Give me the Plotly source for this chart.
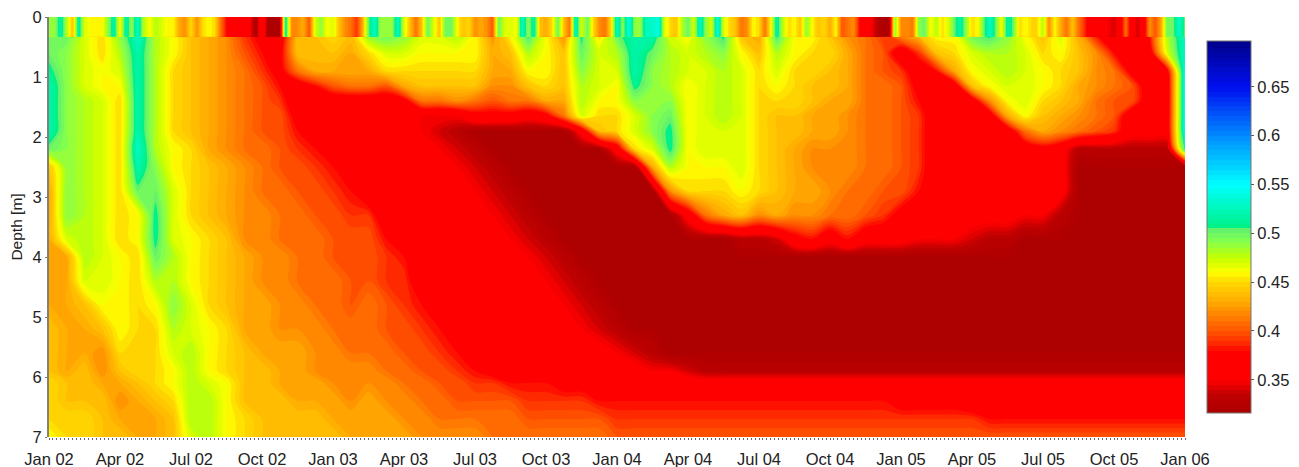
import numpy as np
import plotly.graph_objects as go

tick_months = [0, 3, 6, 9, 12, 15, 18, 21, 24, 27, 30, 33, 36, 39, 42, 45, 48]
tick_labels = ["Jan 02","Apr 02","Jul 02","Oct 02","Jan 03","Apr 03","Jul 03","Oct 03","Jan 04",
               "Apr 04","Jul 04","Oct 04","Jan 05","Apr 05","Jul 05","Oct 05","Jan 06"]
depths = [0.30,0.6,0.9,1.15,1.4,1.65,1.9,2.2,2.5,2.9,3.3,3.7,4.0,4.4,4.8,5.2,5.6,5.9,6.1,6.4,6.7,7.0]
months = [0.75*i for i in range(65)]
strip_months = [0.25*i for i in range(193)]
strip_depths = [0.0, 0.33]

# water content in hundredths: one profile per column, top to bottom
profiles = [
[50,50,51,52,52,52,52,50,44,43,43,43,43,43,43,44,44,44,45,45,45,46],
[50,49,49,49,49,49,49,49,49,49,49,47,43,43,43,43,43,43,44,44,45,45],
[47,47,47,47,48,48,48,48,48,48,48,48,48,47,44,43,43,44,44,44,45,45],
[45,45,46,46,47,47,47,47,47,47,47,47,47,47,46,44,42,42,43,44,44,44],
[49,48,47,46,45,45,45,45,45,45,45,45,46,46,46,46,45,44,43,42,43,44],
[53,52,52,52,52,52,52,53,52,50,46,46,45,45,45,45,45,45,44,43,43,43],
[48,48,48,48,48,48,48,48,49,50,51,51,50,48,46,45,45,45,45,44,43,43],
[46,46,45,45,45,45,45,46,46,47,47,47,48,48,49,48,47,46,46,45,44,44],
[44,44,44,44,44,44,44,45,45,45,45,46,46,46,47,47,48,48,48,48,48,47],
[43,43,43,43,43,43,43,43,44,44,44,45,45,45,45,46,46,46,47,48,48,48],
[42,42,42,42,42,42,42,42,43,43,43,44,44,44,44,45,45,45,46,46,46,46],
[39,40,41,41,41,41,41,41,42,42,42,42,43,43,43,43,44,44,44,44,45,45],
[37,38,39,40,40,40,40,41,41,41,42,42,42,42,43,43,43,44,44,44,44,44],
[36,37,37,38,39,40,40,40,40,41,41,41,42,42,42,42,43,43,43,44,44,44],
[44,44,41,36,36,37,38,39,40,40,41,41,41,41,42,42,43,43,43,43,44,44],
[44,44,43,38,36,36,36,38,39,40,40,41,41,41,41,42,42,42,43,43,44,44],
[45,44,43,40,36,36,36,36,38,39,40,40,40,41,41,41,42,42,42,43,43,44],
[44,43,43,41,36,36,36,36,36,38,39,40,40,40,40,41,41,42,42,42,43,43],
[49,45,43,41,36,36,36,36,36,36,39,40,40,40,41,41,41,42,42,43,43,43],
[50,47,45,40,36,36,36,36,36,36,36,38,39,39,40,40,41,41,42,42,43,43],
[49,47,45,43,37,36,36,36,36,36,36,36,38,39,39,40,40,41,41,42,42,43],
[47,46,45,44,41,35,35,36,36,36,36,36,36,36,38,39,40,40,41,41,42,42],
[47,46,45,44,41,35,34,35,36,36,36,36,36,36,36,38,39,40,40,41,41,42],
[48,46,45,44,42,35,33,34,35,36,36,36,36,36,36,36,38,39,40,40,41,42],
[46,46,45,44,41,37,32,33,34,35,36,36,36,36,36,36,36,38,39,40,41,42],
[42,43,43,42,40,37,32,32,33,34,35,36,36,36,36,36,36,37,39,40,41,41],
[46,44,43,42,41,37,32,32,32,33,34,35,36,36,36,36,36,37,38,40,41,41],
[51,48,46,44,41,36,32,32,32,32,33,34,35,36,36,36,36,36,38,39,40,41],
[46,46,46,45,43,37,32,32,32,32,32,33,34,35,36,36,36,36,38,39,40,41],
[42,44,44,44,43,41,32,32,32,32,32,32,33,34,35,36,36,36,37,39,40,41],
[51,50,49,48,48,47,36,32,32,32,32,32,32,33,34,35,36,36,37,39,40,41],
[45,47,47,47,46,45,44,32,32,32,32,32,32,32,33,34,36,36,37,38,40,41],
[50,48,47,46,46,45,45,36,32,32,32,32,32,32,32,33,35,36,37,38,39,40],
[52,52,52,51,49,47,47,45,32,32,32,32,32,32,32,32,34,36,37,38,39,40],
[52,50,49,49,49,49,49,47,43,32,32,32,32,32,32,32,33,35,37,38,39,40],
[47,48,48,48,49,50,51,51,48,42,32,32,32,32,32,32,32,35,36,38,39,40],
[46,47,47,46,46,46,46,46,46,45,36,32,32,32,32,32,32,34,36,38,39,40],
[49,48,47,47,47,47,47,47,46,45,41,32,32,32,32,32,32,33,36,38,39,40],
[51,49,48,48,48,48,47,47,46,45,43,32,32,32,32,32,32,33,36,38,39,40],
[44,46,47,47,47,47,47,47,47,46,44,33,32,32,32,32,32,33,36,38,39,40],
[43,44,45,45,45,45,45,45,45,45,42,33,32,32,32,32,32,33,36,38,39,40],
[51,48,47,46,45,44,44,44,44,44,43,34,32,32,32,32,32,33,36,38,39,40],
[46,46,45,45,45,44,44,43,43,43,42,37,32,32,32,32,32,33,36,38,39,40],
[46,45,45,44,44,43,43,42,42,43,42,38,32,32,32,32,32,33,36,38,39,40],
[44,45,44,44,43,43,43,42,42,42,41,36,32,32,32,32,32,33,36,38,39,40],
[42,43,43,43,43,42,42,42,42,41,41,38,32,32,32,32,32,33,36,38,39,40],
[41,41,41,41,41,41,41,41,41,41,40,36,32,32,32,32,32,33,36,38,39,40],
[39,40,40,41,41,41,41,41,41,40,39,36,32,32,32,32,32,33,36,38,39,40],
[42,36,39,40,40,40,40,40,40,40,37,36,32,32,32,32,32,33,36,37,39,40],
[44,39,36,37,38,39,39,39,39,38,36,35,32,32,32,32,32,33,36,37,39,40],
[46,44,38,36,36,36,36,36,36,36,36,35,32,32,32,32,32,33,36,37,39,40],
[46,45,43,36,36,36,36,36,36,36,36,35,32,32,32,32,32,33,36,37,39,40],
[50,47,46,44,36,36,36,36,36,36,36,34,32,32,32,32,32,33,36,36,39,40],
[51,48,47,46,42,36,36,36,36,36,36,33,32,32,32,32,32,33,36,36,38,40],
[49,48,48,47,46,43,36,36,36,36,36,33,32,32,32,32,32,33,36,36,38,40],
[46,47,47,47,47,46,41,36,36,36,35,32,32,32,32,32,32,33,36,36,38,40],
[44,45,46,46,45,44,43,37,36,36,35,32,32,32,32,32,32,33,36,36,38,40],
[47,46,45,45,44,43,42,36,36,36,33,32,32,32,32,32,32,33,36,36,38,40],
[43,44,44,43,43,42,41,33,32,32,32,32,32,32,32,32,32,33,36,36,38,40],
[38,42,42,42,41,41,40,33,32,32,32,32,32,32,32,32,32,33,36,36,38,40],
[36,38,41,41,40,40,39,33,32,32,32,32,32,32,32,32,32,33,36,36,38,40],
[36,36,37,40,40,36,36,33,32,32,32,32,32,32,32,32,32,33,36,36,38,40],
[38,36,36,36,36,36,36,33,32,32,32,32,32,32,32,32,32,33,36,36,38,40],
[48,47,37,36,36,36,36,33,32,32,32,32,32,32,32,32,32,33,36,36,38,40],
[53,53,54,54,54,54,54,52,32,32,32,32,32,32,32,32,32,33,36,36,38,40],
]

# near-surface band (top 0.33 m), finer in time
surface = [
49,49,52,48,44,52,47,46,46,46,49,52,
46,52,49,53,48,46,48,47,46,46,43,42,
45,42,45,46,45,41,38,36,36,36,35,32,
38,32,32,32,52,42,42,43,40,47,49,46,
47,44,42,41,39,43,50,53,49,49,49,53,
47,44,41,44,50,47,44,50,50,46,44,45,
42,43,42,40,50,47,47,46,53,49,52,44,
43,45,50,44,41,53,47,50,45,42,41,45,
53,49,54,49,49,53,53,54,47,45,44,48,
50,47,53,49,47,54,47,45,44,41,42,46,
45,41,46,52,48,45,46,44,49,46,44,45,
43,46,40,41,42,38,36,35,33,32,32,49,
42,42,41,49,50,46,48,45,47,50,52,49,
45,46,50,53,50,46,52,50,45,46,45,45,
48,42,46,43,41,44,41,39,36,35,36,35,
34,36,41,36,34,36,42,40,43,50,50,53,50,
]

cbar_ticks = [0.35, 0.4, 0.45, 0.5, 0.55, 0.6, 0.65]
scale_values = [0.316, 0.335, 0.35, 0.38, 0.385, 0.40, 0.415, 0.43, 0.45, 0.46, 0.475, 0.493, 0.5049, 0.505, 0.55, 0.60, 0.65, 0.697]
scale_colors = ["#ab0000","#c00000","#ff0000","#ff0000","#ff2000","#ff5500","#ff8000","#ffaa00","#ffd800","#ffff00","#c8ff00",
                "#80ff50","#60f070","#00f080","#00ffff","#008cff","#0010f0","#00008c"]
zmin, zmax = scale_values[0], scale_values[-1]
colorscale = [[(v - zmin) / (zmax - zmin), c] for v, c in zip(scale_values, scale_colors)]

z = np.array(profiles).T / 100.0
z_strip = np.array([surface, surface]) / 100.0
FONT = "Liberation Sans, Arial, sans-serif"
contours = dict(start=0.315, end=0.70, size=0.005, coloring="fill", showlines=False)

fig = go.Figure()
fig.add_trace(go.Contour(
    x=months, y=depths, z=z, zmin=zmin, zmax=zmax, colorscale=colorscale, contours=contours,
    line=dict(width=0), hoverinfo="skip", autocontour=False,
    colorbar=dict(x=1.0194, xanchor="left", xpad=0, y=0.5, yanchor="middle", ypad=0,
                  lenmode="pixels", len=372, thicknessmode="pixels", thickness=44,
                  tickvals=cbar_ticks, ticktext=[str(t) for t in cbar_ticks], ticks="outside", ticklen=3,
                  tickcolor="#555", outlinecolor="#777", outlinewidth=1,
                  tickfont=dict(family=FONT, size=16.5, color="#222")),
))
fig.add_trace(go.Contour(
    x=strip_months, y=strip_depths, z=z_strip, zmin=zmin, zmax=zmax, colorscale=colorscale, contours=contours,
    line=dict(width=0), hoverinfo="skip", showscale=False, autocontour=False,
))
fig.update_layout(
    width=1299, height=467, autosize=False, paper_bgcolor="white", plot_bgcolor="white",
    margin=dict(l=49, r=114, t=17, b=30, autoexpand=False), font=dict(family=FONT, color="#222"),
    xaxis=dict(range=[0, 48], tickmode="array", tickvals=tick_months, ticktext=tick_labels, ticks="",
               tickfont=dict(size=16.5, color="#222"), showgrid=False, zeroline=False, ticklabelstandoff=10, automargin=False,
               minor=dict(dtick=1/6, tick0=0, ticks="outside", ticklen=2, tickcolor="#666", tickwidth=1, showgrid=False)),
    yaxis=dict(range=[7, 0], tickmode="array", tickvals=list(range(8)), ticks="outside", ticklen=2, tickcolor="#777",
               showline=True, linecolor="#808080", linewidth=2, showgrid=False, zeroline=False, automargin=False,
               tickfont=dict(size=16.5, color="#222"),
               title=dict(text="Depth [m]", font=dict(size=15.5, color="#222"), standoff=6)),
)
fig.write_html("out.html", config={"displayModeBar": False}, post_script="document.body.style.margin='0';")
